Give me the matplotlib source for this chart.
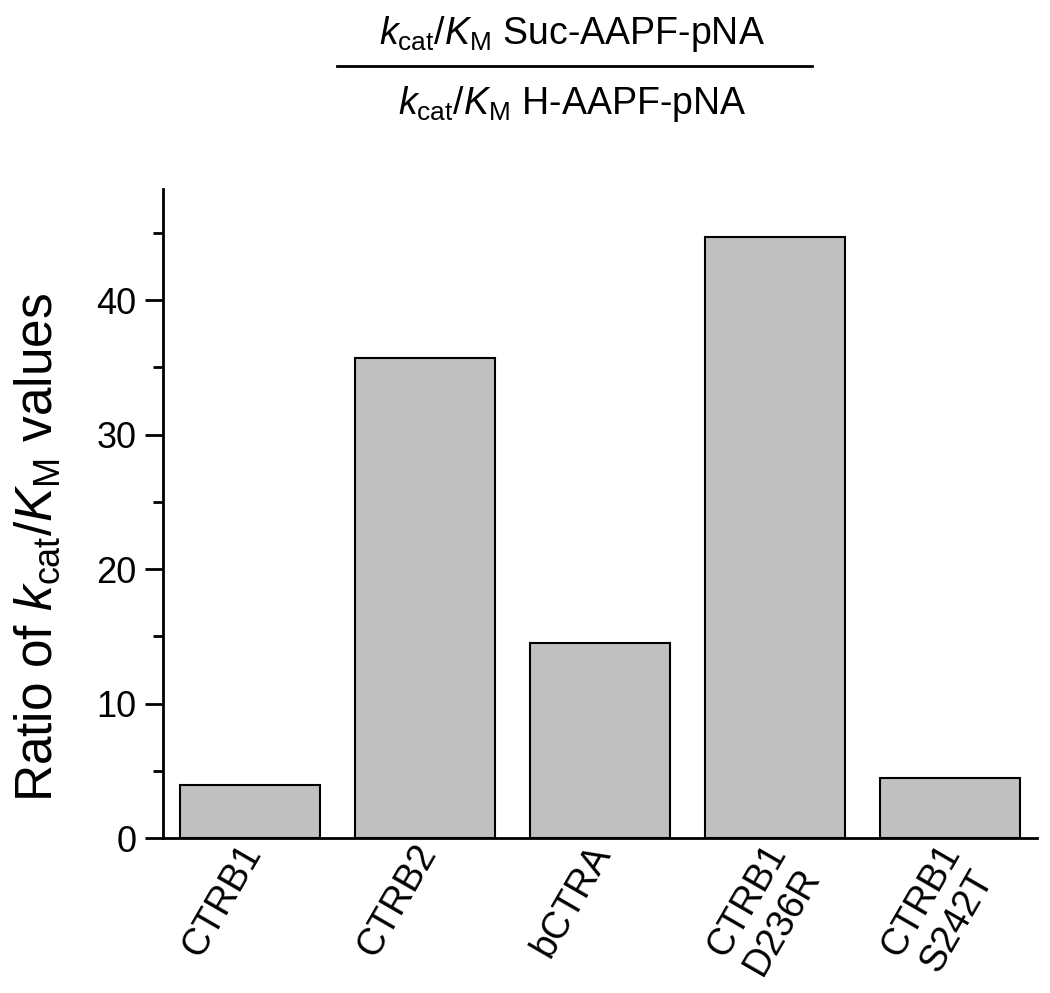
import matplotlib
matplotlib.use('Agg')
import matplotlib.pyplot as plt
from matplotlib.lines import Line2D
from matplotlib.ticker import MultipleLocator
from matplotlib.transforms import ScaledTranslation

plt.rcParams['font.family'] = ['Liberation Sans', 'DejaVu Sans']
plt.rcParams['mathtext.fontset'] = 'custom'
plt.rcParams['mathtext.rm'] = 'Liberation Sans'
plt.rcParams['mathtext.it'] = 'Liberation Sans:italic'

# data
enzymes = ['CTRB1', 'CTRB2', 'bCTRA', 'CTRB1\nD236R', 'CTRB1\nS242T']
ratios = [3.93, 35.7, 14.5, 44.7, 4.45]

fig = plt.figure(figsize=(10.5, 9.93), dpi=100)
ax = fig.add_axes([0.155, 0.156, 0.833, 0.654])

x = list(range(len(enzymes)))
ax.bar(x, ratios, width=0.8, color='#c0c0c0', edgecolor='black', linewidth=1.5)

ax.set_xlim(-0.5, 4.5)
ax.set_ylim(0, 48.3)
ax.yaxis.set_major_locator(MultipleLocator(10))
ax.yaxis.set_minor_locator(MultipleLocator(5))

for s in ['top', 'right']:
    ax.spines[s].set_visible(False)
for s in ['left', 'bottom']:
    ax.spines[s].set_linewidth(2)

ax.tick_params(axis='y', which='major', length=13, width=2, labelsize=26, direction='out', pad=6)
ax.tick_params(axis='y', which='minor', length=7, width=2, direction='out')
ax.tick_params(axis='x', length=0, labelsize=27, pad=6)

ax.set_xticks(x)
ax.set_xticklabels(enzymes, rotation=60, ha='right', va='top',
                   rotation_mode='anchor', multialignment='center')
# nudge rotated labels so they sit like the original
shift = ScaledTranslation(-13 / 100, 8 / 100, fig.dpi_scale_trans)
for lab in ax.get_xticklabels():
    lab.set_transform(lab.get_transform() + shift)

ax.set_ylabel(r'Ratio of $\mathit{k}_{\mathrm{cat}}/\mathit{K}_{\mathrm{M}}$ values', fontsize=37)
ax.yaxis.set_label_coords(-0.115, 0.447)

# fraction heading
fig.text(0.545, 0.966, r'$\mathit{k}_{\mathrm{cat}}/\mathit{K}_{\mathrm{M}}$ Suc-AAPF-pNA',
         ha='center', va='center', fontsize=27)
fig.add_artist(Line2D([0.321, 0.773], [0.9335, 0.9335], color='black', linewidth=2,
                      transform=fig.transFigure))
fig.text(0.545, 0.895, r'$\mathit{k}_{\mathrm{cat}}/\mathit{K}_{\mathrm{M}}$ H-AAPF-pNA',
         ha='center', va='center', fontsize=27)

fig.savefig('out.png', dpi=100)
